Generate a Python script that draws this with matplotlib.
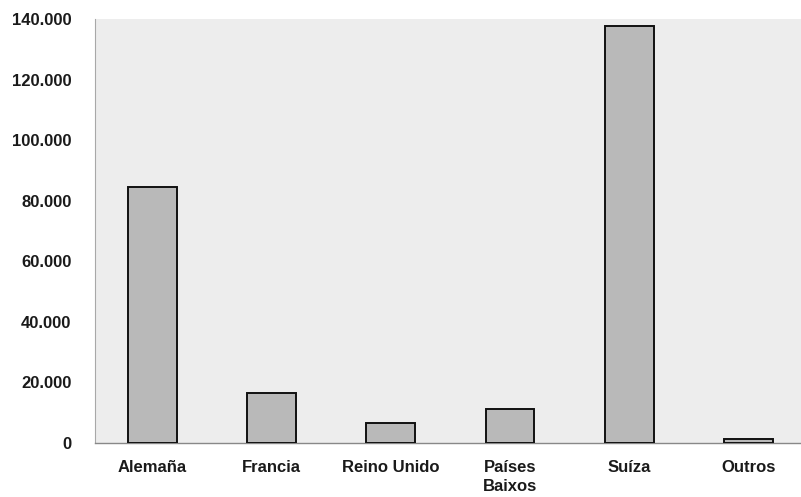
import matplotlib
matplotlib.use("Agg")
import matplotlib.pyplot as plt
from matplotlib.ticker import FuncFormatter

categories = ["Alemaña", "Francia", "Reino Unido", "Países\nBaixos", "Suíza", "Outros"]
values = [84500, 16600, 6700, 11300, 137800, 1300]
yticks = [0, 20000, 40000, 60000, 80000, 100000, 120000, 140000]

plt.rcParams['font.family'] = ['Liberation Sans', 'DejaVu Sans']

fig = plt.figure(figsize=(8.01, 4.97), dpi=100)
ax = fig.add_axes([95/801, 1-443/497, 1-95/801, (443-19)/497])
ax.set_facecolor("#ededed")

x = list(range(len(categories)))
ax.bar(x, values, width=0.41, color="#b9b9b9", edgecolor="#111111", linewidth=1.4, zorder=3)

ax.set_xlim(-0.48, 5.44)
ax.set_ylim(0, 140000)
ax.set_yticks(yticks)
ax.yaxis.set_major_formatter(FuncFormatter(lambda v, p: f"{int(v):,}".replace(",", ".")))
ax.set_xticks(x)
ax.set_xticklabels(categories, fontsize=12, fontweight="bold", color="#1a1a1a",
                   linespacing=1.35, va="top")
ax.tick_params(axis="y", length=0, pad=17, labelsize=12, labelcolor="#1a1a1a")
ax.tick_params(axis="x", length=0, pad=12)
for lbl in ax.get_yticklabels():
    lbl.set_fontweight("bold")

for s in ["top", "right"]:
    ax.spines[s].set_visible(False)
ax.spines["left"].set_color("#a8a8a8")
ax.spines["left"].set_linewidth(0.8)
ax.spines["bottom"].set_color("#888888")
ax.spines["bottom"].set_linewidth(1.0)

fig.savefig("out.png", dpi=100)
